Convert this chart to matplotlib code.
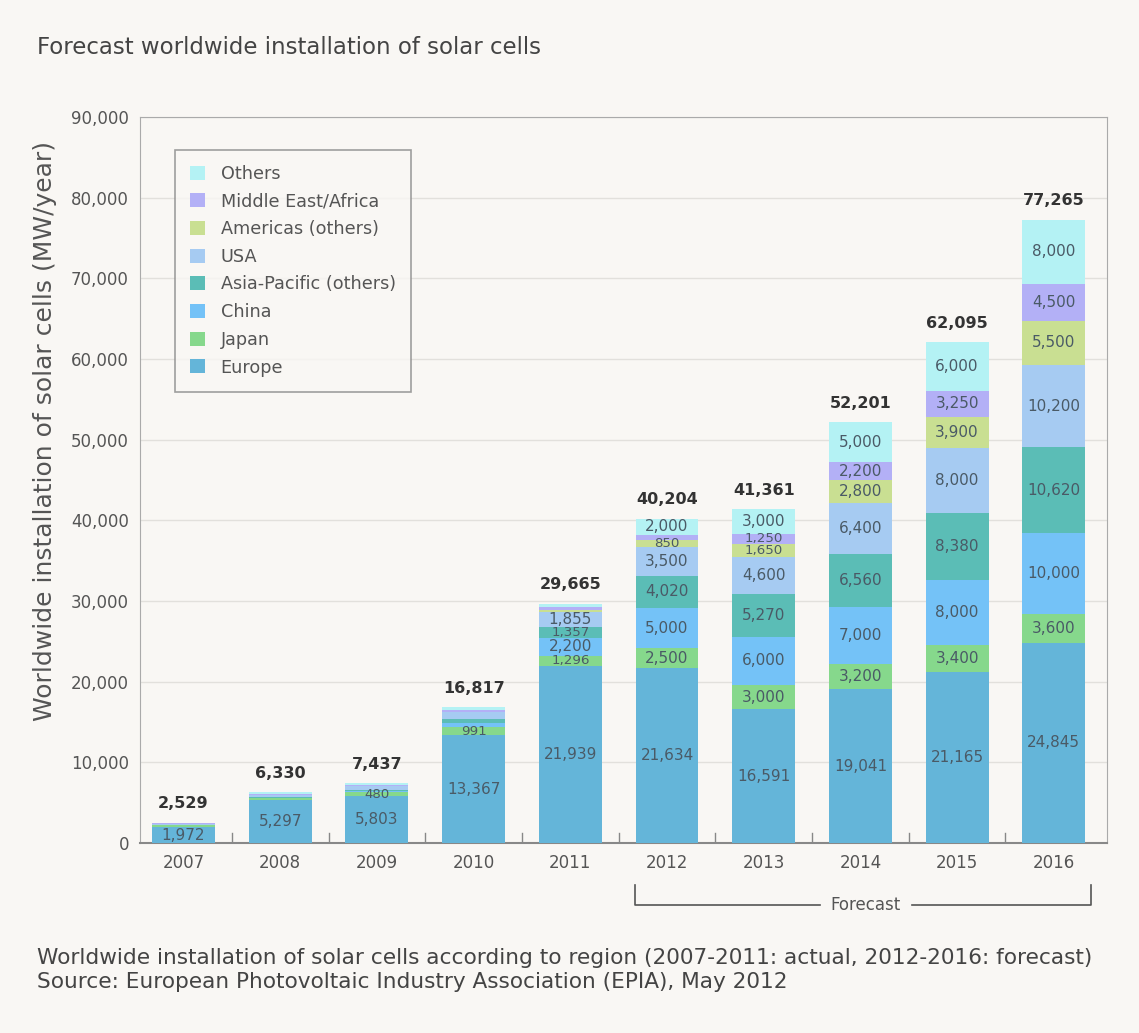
import matplotlib
matplotlib.use("Agg")
import matplotlib.pyplot as plt
import numpy as np

plt.rcParams['font.family'] = ['DejaVu Sans']

# Data (MW/year)
years = ['2007', '2008', '2009', '2010', '2011', '2012', '2013', '2014', '2015', '2016']
regions = ['Europe', 'Japan', 'China', 'Asia-Pacific (others)', 'USA',
           'Americas (others)', 'Middle East/Africa', 'Others']
europe = [1972, 5297, 5803, 13367, 21939, 21634, 16591, 19041, 21165, 24845]
japan = [210, 230, 480, 991, 1296, 2500, 3000, 3200, 3400, 3600]
china = [20, 45, 160, 520, 2200, 5000, 6000, 7000, 8000, 10000]
asia_pacific = [30, 70, 160, 470, 1357, 4020, 5270, 6560, 8380, 10620]
usa = [160, 340, 480, 850, 1855, 3500, 4600, 6400, 8000, 10200]
americas = [20, 30, 30, 80, 264, 850, 1650, 2800, 3900, 5500]
mideast_africa = [20, 10, 60, 190, 400, 700, 1250, 2200, 3250, 4500]
others = [97, 308, 264, 349, 354, 2000, 3000, 5000, 6000, 8000]
totals = [2529, 6330, 7437, 16817, 29665, 40204, 41361, 52201, 62095, 77265]

# which segment labels are printed in the original
shown = {
    'Europe': [1, 1, 1, 1, 1, 1, 1, 1, 1, 1],
    'Japan': [0, 0, 1, 1, 1, 1, 1, 1, 1, 1],
    'China': [0, 0, 0, 0, 1, 1, 1, 1, 1, 1],
    'Asia-Pacific (others)': [0, 0, 0, 0, 1, 1, 1, 1, 1, 1],
    'USA': [0, 0, 0, 0, 1, 1, 1, 1, 1, 1],
    'Americas (others)': [0, 0, 0, 0, 0, 1, 1, 1, 1, 1],
    'Middle East/Africa': [0, 0, 0, 0, 0, 0, 1, 1, 1, 1],
    'Others': [0, 0, 0, 0, 0, 1, 1, 1, 1, 1],
}

series = [europe, japan, china, asia_pacific, usa, americas, mideast_africa, others]
colors = ['#64b5d9', '#86d88c', '#74c2f7', '#5bbdb6', '#a6cbf2',
          '#c9df92', '#b3b0f6', '#b4f2f4']

bg = '#f9f7f4'
fig = plt.figure(figsize=(11.39, 10.33), dpi=100, facecolor=bg)
ax = fig.add_axes([140 / 1139, 1 - 843 / 1033, 967 / 1139, 726 / 1033], facecolor=bg)

x = np.arange(len(years))
width = 0.65
bottom = np.zeros(len(years))
handles = []
for name, vals, col in zip(regions, series, colors):
    vals = np.array(vals, dtype=float)
    b = ax.bar(x, vals, width, bottom=bottom, color=col, zorder=3, label=name)
    handles.append(b)
    for i, v in enumerate(vals):
        if shown[name][i]:
            # squeeze the label when the segment is thin
            fs = 11 if v >= 1700 else 9.6
            ax.text(x[i], bottom[i] + v / 2, f"{int(v):,}", ha='center', va='center',
                    fontsize=fs, color='#4a5a66', zorder=4)
    bottom += vals

# totals above the bars
for i, t in enumerate(totals):
    ax.text(x[i], bottom[i] + 1400, f"{t:,}", ha='center', va='bottom',
            fontsize=11.5, color='#333333', fontweight='bold', zorder=4)

ax.set_xlim(-0.45, 9.55)
ax.set_ylim(0, 90000)
ax.set_yticks(np.arange(0, 90001, 10000))
ax.set_yticklabels([f"{v:,}" for v in range(0, 90001, 10000)], color='#555555', fontsize=12)
ax.set_xticks(x)
ax.set_xticklabels(years, color='#555555', fontsize=12)
ax.tick_params(axis='both', length=0, pad=8)
ax.grid(axis='y', color='#e2e0dc', lw=1, zorder=0)

# category separators on the baseline
for b in np.arange(0.5, 9.5, 1.0):
    ax.plot([b, b], [0, 1200], color='#888888', lw=1, zorder=2)

for s in ['left', 'top', 'right']:
    ax.spines[s].set_color('#aaaaaa')
ax.spines['bottom'].set_color('#888888')
ax.spines['bottom'].set_linewidth(1.5)

leg = ax.legend(handles[::-1], regions[::-1], loc='upper left',
                bbox_to_anchor=(0.036, 0.955), borderaxespad=0, fontsize=12.7,
                frameon=True, fancybox=False, edgecolor='#888888', facecolor=bg,
                handlelength=0.85, handleheight=0.85, handletextpad=0.9,
                labelspacing=0.55, borderpad=0.85, labelcolor='#555555')
leg.get_frame().set_linewidth(1.2)

# forecast bracket under 2012-2016
trans = ax.get_xaxis_transform()
yb = -0.085
ax.plot([4.67, 4.67, 6.58], [yb + 0.027, yb, yb], color='#555555', lw=1.2,
        transform=trans, clip_on=False)
ax.plot([7.53, 9.38, 9.38], [yb, yb, yb + 0.027], color='#555555', lw=1.2,
        transform=trans, clip_on=False)
ax.text(7.05, yb, 'Forecast', ha='center', va='center', fontsize=12,
        color='#555555', transform=trans)

fig.text(45 / 1139, 1 - 431 / 1033, 'Worldwide installation of solar cells (MW/year)',
         rotation=90, ha='center', va='center', fontsize=18, color='#555555')
fig.text(37 / 1139, 1 - 48 / 1033, 'Forecast worldwide installation of solar cells',
         fontsize=16.5, color='#444444', va='center')
fig.text(37 / 1139, 1 - 958 / 1033,
         'Worldwide installation of solar cells according to region '
         '(2007-2011: actual, 2012-2016: forecast)',
         fontsize=15.6, color='#444444', va='center')
fig.text(37 / 1139, 1 - 982 / 1033,
         'Source: European Photovoltaic Industry Association (EPIA), May 2012',
         fontsize=15.6, color='#444444', va='center')

fig.savefig('out.png', dpi=100, facecolor=bg)
